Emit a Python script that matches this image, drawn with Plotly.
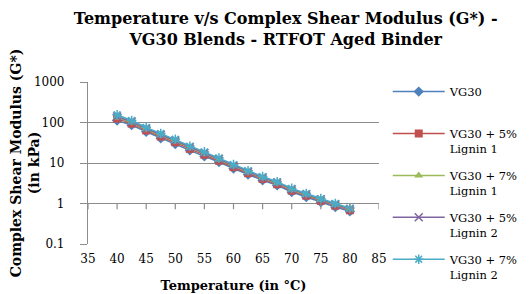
import plotly.graph_objects as go

temps = [40, 42.5, 45, 47.5, 50, 52.5, 55, 57.5, 60, 62.5, 65, 67.5, 70, 72.5, 75, 77.5, 80]
vg30 = [112, 86, 59, 41, 29.5, 20.5, 14.6, 10.6, 7.3, 5.2, 3.75, 2.8, 1.93, 1.45, 1.08, 0.82, 0.64]
vg30_5l1 = [125, 94, 64, 45, 32.5, 22.3, 16, 11.4, 7.9, 5.6, 4.05, 3.0, 2.07, 1.56, 1.16, 0.88, 0.68]
vg30_7l1 = [133, 100, 68, 48, 34.5, 23.5, 17, 12.1, 8.3, 5.9, 4.25, 3.18, 2.18, 1.64, 1.23, 0.92, 0.71]
vg30_5l2 = [140, 104, 71, 50, 36, 24.5, 17.7, 12.6, 8.6, 6.1, 4.4, 3.3, 2.26, 1.7, 1.27, 0.95, 0.73]
vg30_7l2 = [155, 112, 76, 53.5, 38.5, 26, 18.8, 13.3, 9.1, 6.45, 4.62, 3.45, 2.36, 1.77, 1.32, 1.0, 0.77]

names = ["VG30<br> ", "VG30 + 5%<br>Lignin 1", "VG30 + 7%<br>Lignin 1",
         "VG30 + 5%<br>Lignin 2", "VG30 + 7%<br>Lignin 2"]
series = [vg30, vg30_5l1, vg30_7l1, vg30_5l2, vg30_7l2]
colors = ["#4F81BD", "#C0504D", "#9BBB59", "#8064A2", "#4BACC6"]
symbols = ["diamond", "square", "triangle-up", "x-thin", "asterisk"]

xticks = [35, 40, 45, 50, 55, 60, 65, 70, 75, 80, 85]
yticks = [0.1, 1, 10, 100, 1000]
yticktext = ["0.1", "1", "10", "100", "1000"]

FONT = "DejaVu Serif"
GRID = "#8c8c8c"

fig = go.Figure()
for i, (name, ys, c, s) in enumerate(zip(names, series, colors, symbols)):
    thin = s in ("x-thin", "asterisk")
    fig.add_trace(go.Scatter(
        x=temps, y=ys, name=name, legendgroup="g%d" % i,
        mode="lines+markers",
        line=dict(color=c, width=1.5),
        marker=dict(symbol=s, size=8, color=c,
                    line=dict(color=c, width=1.5 if thin else 0)),
    ))

# x-axis ticks crossing at y = 1
for t in xticks:
    fig.add_shape(type="line", xref="x", yref="y domain", x0=t, x1=t,
                  y0=0.25, y1=0.215, line=dict(color=GRID, width=1.2))

fig.update_layout(
    width=530, height=294,
    margin=dict(l=80, r=159, t=74, b=58, autoexpand=False),
    paper_bgcolor="white", plot_bgcolor="white",
    font=dict(family=FONT, size=12, color="black"),
    title=dict(text="<b>Temperature v/s Complex Shear Modulus (G*) -<br>VG30 Blends - RTFOT Aged Binder</b>",
               x=0.524, xanchor="center", xref="container",
               y=0.946, yanchor="middle", yref="container",
               font=dict(family=FONT, size=16, color="black")),
    showlegend=True,
    legend=dict(x=1.03, xanchor="left", y=1.027, yanchor="top",
                font=dict(family=FONT, size=11.5, color="black"),
                valign="top", tracegroupgap=9, itemwidth=52,
                maxheight=300, borderwidth=0,
                bgcolor="rgba(0,0,0,0)"),
)
fig.update_xaxes(range=[35, 85], tickvals=xticks, showgrid=False,
                 showline=False, zeroline=False, ticks="",
                 ticklabelstandoff=6, automargin=False,
                 title=dict(text="<b>Temperature (in °C)</b>", font=dict(size=13), standoff=15),
                 tickfont=dict(size=12))
fig.update_yaxes(type="log", range=[-1, 3], tickvals=yticks, ticktext=yticktext,
                 showgrid=True, gridcolor=GRID, gridwidth=1.2,
                 showline=True, linecolor=GRID, linewidth=1.2,
                 ticks="outside", ticklen=7, tickcolor=GRID, tickwidth=1.2,
                 ticklabelstandoff=13, automargin=False,
                 zeroline=False,
                 title=dict(text="<b>Complex Shear Modulus (G*)<br>(in kPa)</b>", font=dict(size=14), standoff=14),
                 tickfont=dict(size=12))

fig.write_html("out.html")
